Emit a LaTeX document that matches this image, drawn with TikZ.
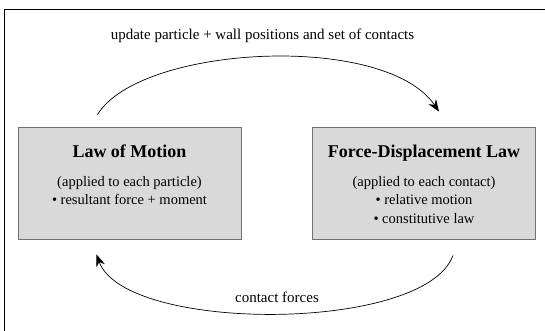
\documentclass[tikz,border=0pt]{standalone}
\usepackage{fontspec}
\setmainfont{Liberation Serif}
\usepackage{tikz}
\usetikzlibrary{positioning,calc,arrows.meta}
\definecolor{boxfill}{HTML}{D9D9D9}
\definecolor{boxedge}{HTML}{707070}

\begin{document}
\begin{tikzpicture}[x=1pt,y=-1pt,
  lawbox/.style={draw=boxedge,fill=boxfill,line width=0.8pt,minimum width=223pt,minimum height=112pt,inner sep=0pt},
  lawtext/.style={align=center,inner sep=0pt,anchor=north,font=\fontsize{14.5}{18.5}\selectfont},
  looplabel/.style={font=\fontsize{15}{17}\selectfont},
  loop/.style={line width=0.7pt,-{Stealth[length=12pt,width=9pt]}}]
\useasboundingbox (0,0) rectangle (545,330);
\draw[line width=1.3pt] (4.5,9.5) rectangle (560,345);

\node[lawbox] (motion) at (129.5,183) {};
\node[lawbox] (fdlaw) at (424,183) {};
\node[lawtext] (motiontxt) at ([yshift=-18.5pt]motion.north)
  {{\fontsize{18}{20}\selectfont\bfseries Law of Motion}\\[10pt]
   (applied to each particle)\\
   \textbullet\ resultant force + moment};
\node[lawtext] (fdlawtxt) at ([yshift=-18.5pt]fdlaw.north)
  {{\fontsize{18}{20}\selectfont\bfseries Force-Displacement Law}\\[10pt]
   (applied to each contact)\\
   \textbullet\ relative motion\\
   \textbullet\ constitutive law};

% the two steps of the cycle
\coordinate (upstart) at ([xshift=-32pt,yshift=12pt]motion.north);
\coordinate (upend) at ([xshift=15pt,yshift=15pt]fdlaw.north);
\draw[loop] (upstart) .. controls (140,45) and (385,32) .. (upend);
\node[looplabel] (uplabel) at (262.5,36) {update particle + wall positions and set of contacts};

\coordinate (downstart) at ([xshift=29pt,yshift=-16pt]fdlaw.south);
\coordinate (downend) at ([xshift=-33pt,yshift=-15pt]motion.south);
\draw[loop] (downstart) .. controls (425,333) and (125,333) .. (downend);
\node[looplabel] (downlabel) at (277,297) {contact forces};
\end{tikzpicture}
\end{document}
